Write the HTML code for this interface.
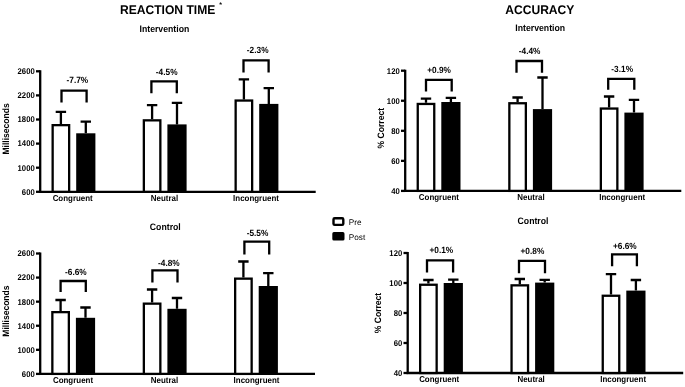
<!DOCTYPE html>
<html lang="en"><head><meta charset="utf-8"><title>Reaction time and accuracy</title>
<style>
html,body{margin:0;padding:0;background:#fff;}
body{width:685px;height:387px;overflow:hidden;font-family:"Liberation Sans", Arial, sans-serif;}
svg{display:block;filter:blur(0.45px);}
text{font-family:"Liberation Sans", Arial, sans-serif;fill:#000;text-rendering:geometricPrecision;}
.ln{fill:none;stroke:#000;stroke-width:2.3;}
.tk{font-size:8.32px;font-weight:bold;}
.pc{font-size:8.97px;font-weight:bold;}
.xl{font-size:8.59px;font-weight:bold;}
.yl{font-size:9.24px;font-weight:bold;}
.st{font-size:9.41px;font-weight:bold;}
.lg{font-size:8.2px;}
.big{font-size:12.6px;font-weight:bold;}
.star{font-size:7px;font-weight:bold;}
</style></head>
<body>
<svg width="685" height="387" viewBox="0 0 685 387">
<rect width="685" height="387" fill="#fff"/>
<text transform="translate(167.6,14) scale(0.96,1)" class="big" text-anchor="middle">REACTION TIME</text>
<text x="220.6" y="6.9" class="star" text-anchor="middle">*</text>
<text transform="translate(539.8,14) scale(0.96,1)" class="big" text-anchor="middle">ACCURACY</text>
<path d="M40.2,70.3 V191.8 H315.7" class="ln"/>
<path d="M36.0,71.30 H40.2" class="ln"/>
<text transform="translate(34.70,74.15) scale(0.925,1)" class="tk" text-anchor="end">2600</text>
<path d="M36.0,95.40 H40.2" class="ln"/>
<text transform="translate(34.70,98.25) scale(0.925,1)" class="tk" text-anchor="end">2200</text>
<path d="M36.0,119.50 H40.2" class="ln"/>
<text transform="translate(34.70,122.35) scale(0.925,1)" class="tk" text-anchor="end">1800</text>
<path d="M36.0,143.60 H40.2" class="ln"/>
<text transform="translate(34.70,146.45) scale(0.925,1)" class="tk" text-anchor="end">1400</text>
<path d="M36.0,167.70 H40.2" class="ln"/>
<text transform="translate(34.70,170.55) scale(0.925,1)" class="tk" text-anchor="end">1000</text>
<path d="M36.0,191.80 H40.2" class="ln"/>
<text transform="translate(34.70,194.65) scale(0.925,1)" class="tk" text-anchor="end">600</text>
<path d="M60.90,124.0 V111.9 M55.70,111.9 H66.10" class="ln"/>
<path d="M85.80,133.3 V121.7 M80.60,121.7 H91.00" class="ln"/>
<rect x="52.65" y="125.15" width="16.50" height="66.65" fill="#fff" stroke="#000" stroke-width="2.3"/>
<rect x="76.20" y="133.30" width="19.20" height="58.50" fill="#000"/>
<path d="M61.5,102.6 V90.6 H86.6 V102.6" class="ln"/>
<text transform="translate(77.40,83.10) scale(0.925,1)" class="pc" text-anchor="middle">-7.7%</text>
<text transform="translate(72.70,200.80) scale(0.925,1)" class="xl" text-anchor="middle">Congruent</text>
<path d="M152.10,119.2 V105.1 M146.90,105.1 H157.30" class="ln"/>
<path d="M177.00,124.4 V102.9 M171.80,102.9 H182.20" class="ln"/>
<rect x="143.85" y="120.35" width="16.50" height="71.45" fill="#fff" stroke="#000" stroke-width="2.3"/>
<rect x="167.40" y="124.40" width="19.20" height="67.40" fill="#000"/>
<path d="M151.4,93.3 V81.4 H176.8 V93.3" class="ln"/>
<text transform="translate(166.70,74.60) scale(0.925,1)" class="pc" text-anchor="middle">-4.5%</text>
<text transform="translate(164.50,200.80) scale(0.925,1)" class="xl" text-anchor="middle">Neutral</text>
<path d="M243.90,99.4 V79.4 M238.70,79.4 H249.10" class="ln"/>
<path d="M268.80,103.9 V88.1 M263.60,88.1 H274.00" class="ln"/>
<rect x="235.65" y="100.55" width="16.50" height="91.25" fill="#fff" stroke="#000" stroke-width="2.3"/>
<rect x="259.20" y="103.90" width="19.20" height="87.90" fill="#000"/>
<path d="M243.5,72.4 V60.4 H268.6 V72.4" class="ln"/>
<text transform="translate(257.70,53.00) scale(0.925,1)" class="pc" text-anchor="middle">-2.3%</text>
<text transform="translate(256.00,200.80) scale(0.925,1)" class="xl" text-anchor="middle">Incongruent</text>
<text transform="translate(8.90,128.95) rotate(-90) scale(0.925,1)" class="yl" text-anchor="middle">Milliseconds</text>
<text transform="translate(164.40,32.30) scale(0.925,1)" class="st" text-anchor="middle">Intervention</text>
<path d="M40.2,252.5 V373.9 H315.0" class="ln"/>
<path d="M36.0,253.50 H40.2" class="ln"/>
<text transform="translate(34.70,256.35) scale(0.925,1)" class="tk" text-anchor="end">2600</text>
<path d="M36.0,277.58 H40.2" class="ln"/>
<text transform="translate(34.70,280.43) scale(0.925,1)" class="tk" text-anchor="end">2200</text>
<path d="M36.0,301.66 H40.2" class="ln"/>
<text transform="translate(34.70,304.51) scale(0.925,1)" class="tk" text-anchor="end">1800</text>
<path d="M36.0,325.74 H40.2" class="ln"/>
<text transform="translate(34.70,328.59) scale(0.925,1)" class="tk" text-anchor="end">1400</text>
<path d="M36.0,349.82 H40.2" class="ln"/>
<text transform="translate(34.70,352.67) scale(0.925,1)" class="tk" text-anchor="end">1000</text>
<path d="M36.0,373.90 H40.2" class="ln"/>
<text transform="translate(34.70,376.75) scale(0.925,1)" class="tk" text-anchor="end">600</text>
<path d="M60.60,311.0 V300.0 M55.40,300.0 H65.80" class="ln"/>
<path d="M85.50,317.8 V307.5 M80.30,307.5 H90.70" class="ln"/>
<rect x="52.35" y="312.15" width="16.50" height="61.75" fill="#fff" stroke="#000" stroke-width="2.3"/>
<rect x="75.90" y="317.80" width="19.20" height="56.10" fill="#000"/>
<path d="M60.6,292 V281 H85.8 V292" class="ln"/>
<text transform="translate(75.90,275.40) scale(0.925,1)" class="pc" text-anchor="middle">-6.6%</text>
<text transform="translate(73.00,382.70) scale(0.925,1)" class="xl" text-anchor="middle">Congruent</text>
<path d="M152.10,302.5 V289.5 M146.90,289.5 H157.30" class="ln"/>
<path d="M177.00,308.8 V298 M171.80,298 H182.20" class="ln"/>
<rect x="143.85" y="303.65" width="16.50" height="70.25" fill="#fff" stroke="#000" stroke-width="2.3"/>
<rect x="167.40" y="308.80" width="19.20" height="65.10" fill="#000"/>
<path d="M152.4,282.4 V270.4 H177.5 V282.4" class="ln"/>
<text transform="translate(168.90,266.00) scale(0.925,1)" class="pc" text-anchor="middle">-4.8%</text>
<text transform="translate(164.50,382.70) scale(0.925,1)" class="xl" text-anchor="middle">Neutral</text>
<path d="M243.40,277.5 V261.5 M238.20,261.5 H248.60" class="ln"/>
<path d="M268.30,286 V273.2 M263.10,273.2 H273.50" class="ln"/>
<rect x="235.15" y="278.65" width="16.50" height="95.25" fill="#fff" stroke="#000" stroke-width="2.3"/>
<rect x="258.70" y="286.00" width="19.20" height="87.90" fill="#000"/>
<path d="M244.4,254.5 V241.6 H269.2 V254.5" class="ln"/>
<text transform="translate(257.50,236.00) scale(0.925,1)" class="pc" text-anchor="middle">-5.5%</text>
<text transform="translate(256.50,382.70) scale(0.925,1)" class="xl" text-anchor="middle">Incongruent</text>
<text transform="translate(8.90,311.10) rotate(-90) scale(0.925,1)" class="yl" text-anchor="middle">Milliseconds</text>
<text transform="translate(165.30,229.60) scale(0.925,1)" class="st" text-anchor="middle">Control</text>
<path d="M405.2,69.7 V190.9 H681.3" class="ln"/>
<path d="M401.0,70.70 H405.2" class="ln"/>
<text transform="translate(399.70,73.55) scale(0.925,1)" class="tk" text-anchor="end">120</text>
<path d="M401.0,100.75 H405.2" class="ln"/>
<text transform="translate(399.70,103.60) scale(0.925,1)" class="tk" text-anchor="end">100</text>
<path d="M401.0,130.80 H405.2" class="ln"/>
<text transform="translate(399.70,133.65) scale(0.925,1)" class="tk" text-anchor="end">80</text>
<path d="M401.0,160.85 H405.2" class="ln"/>
<text transform="translate(399.70,163.70) scale(0.925,1)" class="tk" text-anchor="end">60</text>
<path d="M401.0,190.90 H405.2" class="ln"/>
<text transform="translate(399.70,193.75) scale(0.925,1)" class="tk" text-anchor="end">40</text>
<path d="M426.00,102.8 V98.7 M420.80,98.7 H431.20" class="ln"/>
<path d="M450.90,102.0 V97.9 M445.70,97.9 H456.10" class="ln"/>
<rect x="417.75" y="103.95" width="16.50" height="86.95" fill="#fff" stroke="#000" stroke-width="2.3"/>
<rect x="441.30" y="102.00" width="19.20" height="88.90" fill="#000"/>
<path d="M426.0,91.6 V79.9 H451.7 V91.6" class="ln"/>
<text transform="translate(439.10,72.90) scale(0.925,1)" class="pc" text-anchor="middle">+0.9%</text>
<text transform="translate(438.90,200.00) scale(0.925,1)" class="xl" text-anchor="middle">Congruent</text>
<path d="M517.60,102.1 V97.5 M512.40,97.5 H522.80" class="ln"/>
<path d="M542.50,109.1 V77.5 M537.30,77.5 H547.70" class="ln"/>
<rect x="509.35" y="103.25" width="16.50" height="87.65" fill="#fff" stroke="#000" stroke-width="2.3"/>
<rect x="532.90" y="109.10" width="19.20" height="81.80" fill="#000"/>
<path d="M516.5,72.8 V61.0 H542 V72.8" class="ln"/>
<text transform="translate(529.60,54.00) scale(0.925,1)" class="pc" text-anchor="middle">-4.4%</text>
<text transform="translate(531.00,200.00) scale(0.925,1)" class="xl" text-anchor="middle">Neutral</text>
<path d="M609.10,107.4 V96.5 M603.90,96.5 H614.30" class="ln"/>
<path d="M634.00,112.6 V99.8 M628.80,99.8 H639.20" class="ln"/>
<rect x="600.85" y="108.55" width="16.50" height="82.35" fill="#fff" stroke="#000" stroke-width="2.3"/>
<rect x="624.40" y="112.60" width="19.20" height="78.30" fill="#000"/>
<path d="M608.2,89.8 V78.8 H634.3 V89.8" class="ln"/>
<text transform="translate(622.20,71.60) scale(0.925,1)" class="pc" text-anchor="middle">-3.1%</text>
<text transform="translate(622.20,200.00) scale(0.925,1)" class="xl" text-anchor="middle">Incongruent</text>
<text transform="translate(383.90,128.20) rotate(-90) scale(0.925,1)" class="yl" text-anchor="middle">% Correct</text>
<text transform="translate(540.20,31.00) scale(0.925,1)" class="st" text-anchor="middle">Intervention</text>
<path d="M407.7,252 V373 H683.2" class="ln"/>
<path d="M403.5,253.00 H407.7" class="ln"/>
<text transform="translate(402.20,255.85) scale(0.925,1)" class="tk" text-anchor="end">120</text>
<path d="M403.5,283.00 H407.7" class="ln"/>
<text transform="translate(402.20,285.85) scale(0.925,1)" class="tk" text-anchor="end">100</text>
<path d="M403.5,313.00 H407.7" class="ln"/>
<text transform="translate(402.20,315.85) scale(0.925,1)" class="tk" text-anchor="end">80</text>
<path d="M403.5,343.00 H407.7" class="ln"/>
<text transform="translate(402.20,345.85) scale(0.925,1)" class="tk" text-anchor="end">60</text>
<path d="M403.5,373.00 H407.7" class="ln"/>
<text transform="translate(402.20,375.85) scale(0.925,1)" class="tk" text-anchor="end">40</text>
<path d="M428.40,283.6 V280 M423.20,280 H433.60" class="ln"/>
<path d="M453.30,283.0 V279.6 M448.10,279.6 H458.50" class="ln"/>
<rect x="420.15" y="284.75" width="16.50" height="88.25" fill="#fff" stroke="#000" stroke-width="2.3"/>
<rect x="443.70" y="283.00" width="19.20" height="90.00" fill="#000"/>
<path d="M427.0,272.4 V260.4 H453.1 V272.4" class="ln"/>
<text transform="translate(441.30,253.40) scale(0.925,1)" class="pc" text-anchor="middle">+0.1%</text>
<text transform="translate(439.20,381.70) scale(0.925,1)" class="xl" text-anchor="middle">Congruent</text>
<path d="M519.80,284.2 V279 M514.60,279 H525.00" class="ln"/>
<path d="M544.70,282.6 V279.8 M539.50,279.8 H549.90" class="ln"/>
<rect x="511.55" y="285.35" width="16.50" height="87.65" fill="#fff" stroke="#000" stroke-width="2.3"/>
<rect x="535.10" y="282.60" width="19.20" height="90.40" fill="#000"/>
<path d="M519.0,273.3 V260.9 H545.0 V273.3" class="ln"/>
<text transform="translate(532.40,254.20) scale(0.925,1)" class="pc" text-anchor="middle">+0.8%</text>
<text transform="translate(531.10,381.70) scale(0.925,1)" class="xl" text-anchor="middle">Neutral</text>
<path d="M611.00,294.6 V274.1 M605.80,274.1 H616.20" class="ln"/>
<path d="M635.90,290.6 V280 M630.70,280 H641.10" class="ln"/>
<rect x="602.75" y="295.75" width="16.50" height="77.25" fill="#fff" stroke="#000" stroke-width="2.3"/>
<rect x="626.30" y="290.60" width="19.20" height="82.40" fill="#000"/>
<path d="M612.1,266.3 V254.4 H636.9 V266.3" class="ln"/>
<text transform="translate(624.80,248.60) scale(0.925,1)" class="pc" text-anchor="middle">+6.6%</text>
<text transform="translate(623.10,381.70) scale(0.925,1)" class="xl" text-anchor="middle">Incongruent</text>
<text transform="translate(381.40,313.00) rotate(-90) scale(0.925,1)" class="yl" text-anchor="middle">% Correct</text>
<text transform="translate(533.00,224.40) scale(0.925,1)" class="st" text-anchor="middle">Control</text>

<rect x="333.5" y="218.2" width="9.8" height="6.7" rx="1.2" fill="#fff" stroke="#000" stroke-width="2.4"/>
<rect x="332.3" y="232.1" width="12.2" height="8.5" rx="1.6" fill="#000"/>
<text x="348.8" y="224.6" class="lg">Pre</text>
<text x="348.8" y="239.5" class="lg">Post</text>

</svg>
</body></html>
